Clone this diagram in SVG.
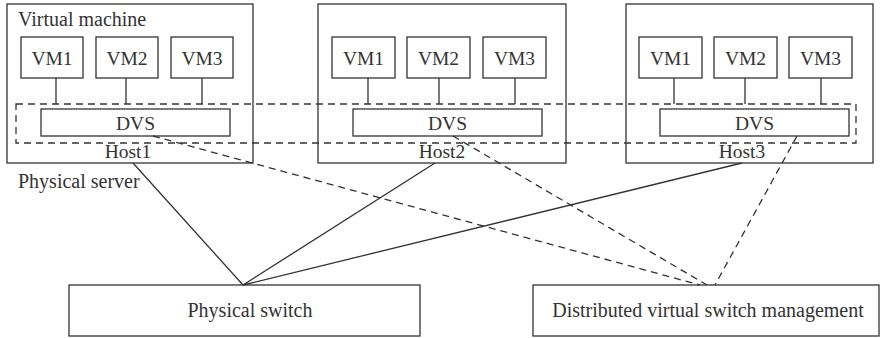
<svg xmlns="http://www.w3.org/2000/svg" width="880" height="338" viewBox="0 0 880 338">
<style>
rect{fill:#fff;stroke:#333;stroke-width:1.3}
text{font-family:"Liberation Serif","Times New Roman",serif;font-size:19.5px;fill:#333}
.big{font-size:20px}
.c{text-anchor:middle}
.l{stroke:#333;stroke-width:1.3;fill:none}
.d{stroke:#333;stroke-width:1.3;fill:none;stroke-dasharray:7 5}
</style>
<rect x="0" y="0" width="880" height="338" style="stroke:none;fill:#fff"/>
<g id="host1">
<rect x="7" y="4" width="246" height="159"/>
<text class="big" x="18" y="26">Virtual machine</text>
<text class="c" x="128" y="158">Host1</text>
</g>
<g id="host2">
<rect x="318" y="4" width="248" height="159"/>
<text class="c" x="442" y="158">Host2</text>
</g>
<g id="host3">
<rect x="626" y="4" width="247" height="159"/>
<text class="c" x="742" y="158">Host3</text>
</g>
<g id="dvs-group">
<rect x="16" y="104" width="840" height="39" style="fill:none;stroke-dasharray:7 5"/>
</g>
<g id="vms">
<g id="h1vm1"><rect x="21" y="37" width="62" height="41"/><text class="c" x="52" y="65">VM1</text></g>
<g id="h1vm2"><rect x="96" y="37" width="62" height="41"/><text class="c" x="127" y="65">VM2</text></g>
<g id="h1vm3"><rect x="171" y="37" width="62" height="41"/><text class="c" x="202" y="65">VM3</text></g>
<g id="h2vm1"><rect x="332" y="37" width="63" height="41"/><text class="c" x="363.5" y="65">VM1</text></g>
<g id="h2vm2"><rect x="407" y="37" width="63" height="41"/><text class="c" x="438.5" y="65">VM2</text></g>
<g id="h2vm3"><rect x="483" y="37" width="63" height="41"/><text class="c" x="514.5" y="65">VM3</text></g>
<g id="h3vm1"><rect x="639" y="37" width="63" height="41"/><text class="c" x="670.5" y="65">VM1</text></g>
<g id="h3vm2"><rect x="714" y="37" width="63" height="41"/><text class="c" x="745.5" y="65">VM2</text></g>
<g id="h3vm3"><rect x="789" y="37" width="63" height="41"/><text class="c" x="820.5" y="65">VM3</text></g>
</g>
<g id="dvs1"><rect x="41" y="109" width="189" height="27"/><text class="c" x="135.5" y="130">DVS</text></g>
<g id="dvs2"><rect x="353" y="109" width="189" height="27"/><text class="c" x="447.5" y="130">DVS</text></g>
<g id="dvs3"><rect x="660" y="109" width="189" height="27"/><text class="c" x="754.5" y="130">DVS</text></g>
<g id="label-server"><text class="big" x="18" y="188">Physical server</text></g>
<g id="pswitch"><rect x="69" y="285" width="351" height="51"/><text class="c big" x="250" y="317">Physical switch</text></g>
<g id="dvsm"><rect x="533" y="285" width="346" height="51"/><text class="c big" x="708" y="317">Distributed virtual switch management</text></g>
<g id="connectors">
<path class="l" d="M56 78V104M126 78V104M202 78V104M368 78V104M439 78V104M515 78V104M674 78V104M745 78V104M821 78V104"/>
<path class="l" d="M133 163L243 285M435 163L243 285M742 163L243 285"/>
<path class="d" d="M153 136L700 285M453 136L707 285M797 136L715 285"/>
</g>
</svg>
